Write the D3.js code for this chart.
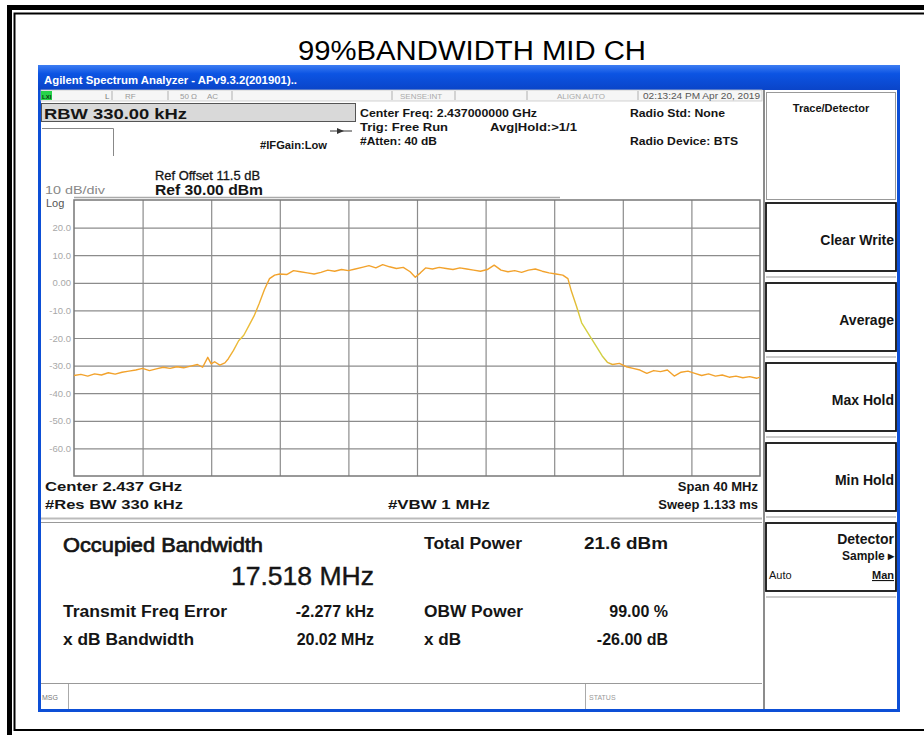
<!DOCTYPE html>
<html><head><meta charset="utf-8">
<script src="https://cdn.jsdelivr.net/npm/d3@7/dist/d3.min.js"></script>
<style>
html,body{margin:0;padding:0;background:#fff;}
svg{display:block;font-family:"Liberation Sans",Arial,sans-serif;}
</style></head>
<body>
<svg id="c" width="924" height="735"></svg>
<script>
// ---------------- data ----------------
const chartTitle = "99%BANDWIDTH MID CH";
const centerGHz = 2.437;
const spanMHz = 40;
const refLevel = 30;          // dBm (top of graticule)
const dbPerDiv = 10;
const yTickVals = [20, 10, 0, -10, -20, -30, -40, -50, -60];
const yTickLabels = ["20.0", "10.0", "0.00", "-10.0", "-20.0", "-30.0", "-40.0", "-50.0", "-60.0"];
const xGridVals = [-16, -12, -8, -4, 0, 4, 8, 12, 16];   // MHz offset from centre
// trace: frequency offset (MHz) and level (dBm)
const traceOffsetMHz = [-20.0,-19.6,-19.2,-18.8,-18.4,-18.0,-17.6,-17.2,-16.8,-16.4,-16.0,-15.6,-15.2,-14.8,-14.4,-14.0,-13.6,-13.2,-12.8,-12.5,-12.2,-12.0,-11.8,-11.5,-11.2,-11.0,-10.7,-10.4,-10.1,-9.8,-9.5,-9.2,-8.9,-8.6,-8.3,-8.0,-7.6,-7.2,-6.8,-6.4,-6.0,-5.6,-5.2,-4.8,-4.4,-4.0,-3.6,-3.2,-2.8,-2.4,-2.0,-1.6,-1.2,-0.8,-0.4,-0.1,0.2,0.5,0.9,1.3,1.7,2.1,2.5,2.9,3.3,3.7,4.1,4.5,4.9,5.3,5.7,6.1,6.5,6.9,7.3,7.7,8.1,8.5,8.8,9.0,9.3,9.6,9.9,10.2,10.5,10.8,11.1,11.4,11.8,12.2,12.6,13.0,13.4,13.8,14.2,14.6,15.0,15.4,15.8,16.2,16.6,17.0,17.4,17.8,18.2,18.6,19.0,19.4,19.8,20.0];
const traceLevelDbm = [-33.6,-33.2,-33.8,-33.0,-33.4,-32.6,-33.1,-32.4,-32.0,-31.6,-31.0,-31.8,-31.2,-30.6,-31.0,-30.4,-30.8,-30.2,-29.6,-30.6,-27.0,-29.4,-28.6,-29.8,-29.0,-27.5,-24.5,-21.0,-19.0,-15.5,-12.0,-7.5,-2.5,1.5,2.8,3.2,3.0,4.4,4.0,3.6,3.2,3.8,4.6,4.2,4.8,4.4,5.0,5.6,6.2,5.4,6.6,5.8,5.2,5.6,4.0,2.0,3.6,5.4,5.0,5.6,5.2,4.8,5.4,5.0,4.6,4.2,4.8,6.4,4.6,4.0,4.4,3.8,4.6,5.0,4.2,3.6,3.2,2.8,1.5,-3.0,-8.5,-14.5,-17.5,-20.5,-23.5,-26.5,-28.8,-29.6,-29.2,-30.4,-31.0,-31.6,-32.8,-31.8,-32.2,-31.6,-33.8,-32.4,-32.0,-32.8,-33.6,-33.0,-33.8,-33.4,-34.2,-33.8,-34.4,-34.0,-34.6,-34.2];
// header / footer text
const headerLeft = ["Center 2.437 GHz", "#Res BW  330 kHz"];
const footerMid = "#VBW  1 MHz";
const footerRight = ["Span 40 MHz", "Sweep  1.133 ms"];
const resultLabels = ["Transmit Freq Error", "x dB Bandwidth"];
const resultValues = ["-2.277 kHz", "20.02 MHz"];
const resultLabels2 = ["OBW Power", "x dB"];
const resultValues2 = ["99.00 %", "-26.00 dB"];
const softkeys = ["Clear Write", "Average", "Max Hold", "Min Hold"];

// ---------------- drawing ----------------
const svg = d3.select("#c");
const FONT = '"Liberation Sans",Arial,sans-serif';
function txt(g, s, x, y, o) {
  o = o || {};
  const t = g.append("text").attr("x", x).attr("y", y).text(s)
    .attr("font-size", o.size || 11)
    .attr("font-weight", o.w || "bold")
    .attr("fill", o.fill || "#151515")
    .attr("text-anchor", o.anchor || "start");
  if (o.len) t.attr("textLength", o.len).attr("lengthAdjust", "spacingAndGlyphs");
  if (o.deco) t.attr("text-decoration", o.deco);
  if (o.sw) t.attr("stroke", o.fill || "#151515").attr("stroke-width", o.sw);
  return t;
}

// outer frame
svg.append("rect").attr("width", 924).attr("height", 735).attr("fill", "#fff");
svg.append("path").attr("d", "M9.5,735 V7.5 H924").attr("fill", "none").attr("stroke", "#000").attr("stroke-width", 5);
svg.append("path").attr("d", "M924,730 H14.5 V13.5 H924").attr("fill", "none").attr("stroke", "#000").attr("stroke-width", 2);

// title
txt(svg, chartTitle, 298, 60, {size: 27, w: "normal", fill: "#000", len: 348});

// window
const defs = svg.append("defs");
const gr = defs.append("linearGradient").attr("id", "tb").attr("x1", 0).attr("y1", 0).attr("x2", 0).attr("y2", 1);
gr.append("stop").attr("offset", "0").attr("stop-color", "#3d7df2");
gr.append("stop").attr("offset", "0.35").attr("stop-color", "#0c54e3");
gr.append("stop").attr("offset", "1").attr("stop-color", "#0a44c8");
svg.append("rect").attr("x", 38).attr("y", 65).attr("width", 862).attr("height", 647).attr("fill", "#0d4fd6");
svg.append("rect").attr("x", 38).attr("y", 65).attr("width", 862).attr("height", 25).attr("fill", "url(#tb)");
txt(svg, "Agilent Spectrum Analyzer - APv9.3.2(201901)..", 44, 84, {size: 10, fill: "#fff", len: 253});

// main panel background
svg.append("rect").attr("x", 41).attr("y", 90).attr("width", 722).attr("height", 619).attr("fill", "#fff");
// status row
const sr = svg.append("g");
sr.append("rect").attr("x", 41).attr("y", 90).attr("width", 721).attr("height", 11).attr("fill", "#f6f6f6").attr("stroke", "#c8c8c8").attr("stroke-width", 0.8);
sr.append("rect").attr("x", 41).attr("y", 91).attr("width", 11).attr("height", 9).attr("fill", "#27d34a");
txt(sr, "LXI", 42, 99, {size: 6, fill: "#0a3a10"});
[112, 168, 232, 392, 455, 527, 638].forEach(x => sr.append("line").attr("x1", x).attr("x2", x).attr("y1", 91).attr("y2", 100).attr("stroke", "#b0b0b0"));
txt(sr, "L", 105, 99, {size: 8, w: "normal", fill: "#777"});
txt(sr, "RF", 125, 99, {size: 8, w: "normal", fill: "#999"});
txt(sr, "50 Ω", 180, 99, {size: 8, w: "normal", fill: "#999"});
txt(sr, "AC", 207, 99, {size: 8, w: "normal", fill: "#999"});
txt(sr, "SENSE:INT", 400, 99, {size: 8, w: "normal", fill: "#aaa"});
txt(sr, "ALIGN AUTO", 557, 99, {size: 8, w: "normal", fill: "#aaa"});
txt(sr, "02:13:24 PM Apr 20, 2019", 643, 99, {size: 8.5, w: "normal", fill: "#555", len: 117});

// header
svg.append("rect").attr("x", 41.5).attr("y", 103.5).attr("width", 314).attr("height", 18).attr("fill", "#d9d9d9").attr("stroke", "#555");
txt(svg, "RBW  330.00 kHz", 44, 119, {size: 15, len: 143});
svg.append("path").attr("d", "M42,128.5 H113.5 V156").attr("fill", "none").attr("stroke", "#888");
svg.append("line").attr("x1", 330).attr("x2", 352).attr("y1", 131).attr("y2", 131).attr("stroke", "#333");
svg.append("path").attr("d", "M337,128 L344,131 L337,134 Z").attr("fill", "#333");
txt(svg, "#IFGain:Low", 260, 149, {size: 10, len: 67});
txt(svg, "Center Freq: 2.437000000 GHz", 360, 117, {size: 11, len: 177});
txt(svg, "Trig: Free Run", 360, 131, {size: 11, len: 88});
txt(svg, "Avg|Hold:>1/1", 490, 131, {size: 11, len: 87});
txt(svg, "#Atten: 40 dB", 360, 145, {size: 11, len: 77});
txt(svg, "Radio Std: None", 630, 117, {size: 11, len: 95});
txt(svg, "Radio Device: BTS", 630, 145, {size: 11, len: 108});
txt(svg, "Ref Offset 11.5 dB", 155, 180, {size: 12, w: "normal", len: 105, sw: 0.3});
txt(svg, "Ref 30.00 dBm", 155, 195, {size: 14, len: 108});
txt(svg, "10 dB/div", 45, 194, {size: 11, w: "normal", fill: "#888", len: 60});
txt(svg, "Log", 46, 207, {size: 11, w: "normal", fill: "#555"});
svg.append("line").attr("x1", 74).attr("x2", 560).attr("y1", 197.5).attr("y2", 197.5).attr("stroke", "#aaa").attr("stroke-width", 1.5);

// plot
const L = 74, R = 760, T = 200, B = 476;
const x = d3.scaleLinear().domain([-spanMHz / 2, spanMHz / 2]).range([L, R]);
const y = d3.scaleLinear().domain([refLevel - 10 * dbPerDiv, refLevel]).range([B, T]);
const plot = svg.append("g");
plot.append("rect").attr("x", L).attr("y", T).attr("width", R - L).attr("height", B - T).attr("fill", "#fff");
const gy = plot.append("g").attr("transform", `translate(${L},0)`)
  .call(d3.axisLeft(y).tickValues(yTickVals).tickSize(-(R - L)).tickPadding(4)
    .tickFormat((d, i) => yTickLabels[i]));
gy.select(".domain").remove();
gy.selectAll(".tick line").attr("stroke", "#8c8c8c").attr("stroke-width", 1.2);
gy.selectAll(".tick text").attr("fill", "#a8a8a8").attr("font-size", 9.5).attr("font-family", FONT).attr("x", -3);
const gx = plot.append("g").attr("transform", `translate(0,${B})`)
  .call(d3.axisBottom(x).tickValues(xGridVals).tickSize(-(B - T)).tickFormat(""));
gx.select(".domain").remove();
gx.selectAll(".tick line").attr("stroke", "#8c8c8c").attr("stroke-width", 1.2);
plot.append("rect").attr("x", L).attr("y", T).attr("width", R - L).attr("height", B - T).attr("fill", "none").attr("stroke", "#777").attr("stroke-width", 1.5);
// trace colour: orange, yellowish on the steep skirts
const tg = defs.append("linearGradient").attr("id", "trc").attr("gradientUnits", "userSpaceOnUse")
  .attr("x1", L).attr("x2", R).attr("y1", 0).attr("y2", 0);
[[-20, "#f2a22c"], [-11.2, "#f2a22c"], [-10.2, "#e9c43c"], [-8.6, "#f2a22c"], [8.7, "#f2a22c"], [9.6, "#d6cf3e"], [10.8, "#cfd043"], [11.6, "#f2a22c"], [20, "#f2a22c"]]
  .forEach(([f, c]) => tg.append("stop").attr("offset", (x(f) - L) / (R - L)).attr("stop-color", c));
const pts = traceOffsetMHz.map((f, i) => [f, traceLevelDbm[i]]);
plot.append("path").datum(pts)
  .attr("d", d3.line().x(d => x(d[0])).y(d => y(d[1])))
  .attr("fill", "none").attr("stroke", "url(#trc)").attr("stroke-width", 1.4).attr("stroke-linejoin", "round");

// footer below graticule
txt(svg, headerLeft[0], 45, 491, {size: 13, len: 137});
txt(svg, headerLeft[1], 45, 509, {size: 13, len: 138});
txt(svg, footerMid, 388, 509, {size: 13, len: 102});
txt(svg, footerRight[0], 758, 491, {size: 13, anchor: "end"});
txt(svg, footerRight[1], 758, 509, {size: 13, anchor: "end"});
svg.append("line").attr("x1", 41).attr("x2", 762).attr("y1", 518.5).attr("y2", 518.5).attr("stroke", "#bbb").attr("stroke-width", 2);
svg.append("line").attr("x1", 41).attr("x2", 762).attr("y1", 522.5).attr("y2", 522.5).attr("stroke", "#999");

// results panel
svg.append("line").attr("x1", 41).attr("x2", 762).attr("y1", 683.5).attr("y2", 683.5).attr("stroke", "#999");
txt(svg, "Occupied Bandwidth", 63, 552, {size: 20, w: "normal", len: 200, sw: 0.7});
txt(svg, "17.518 MHz", 231, 585, {size: 26, w: "normal", len: 143, sw: 0.4});
txt(svg, "Total Power", 424, 549, {size: 16, len: 98});
txt(svg, "21.6 dBm", 584, 549, {size: 16, len: 84});
resultLabels.forEach((s, i) => txt(svg, s, 63, 617 + i * 28, {size: 16, len: i === 0 ? 164 : 131}));
resultValues.forEach((s, i) => txt(svg, s, 374, 617 + i * 28, {size: 16, anchor: "end"}));
resultLabels2.forEach((s, i) => txt(svg, s, 424, 617 + i * 28, {size: 16, len: i === 0 ? 99 : 37}));
resultValues2.forEach((s, i) => txt(svg, s, 668, 617 + i * 28, {size: 16, anchor: "end"}));

// status bar
svg.append("line").attr("x1", 68.5).attr("x2", 68.5).attr("y1", 684).attr("y2", 709).attr("stroke", "#aaa");
svg.append("line").attr("x1", 585.5).attr("x2", 585.5).attr("y1", 684).attr("y2", 709).attr("stroke", "#aaa");
txt(svg, "MSG", 42, 700, {size: 7, w: "normal", fill: "#777"});
txt(svg, "STATUS", 589, 700, {size: 7, w: "normal", fill: "#999"});

// right softkey panel
const sk = svg.append("g");
sk.append("rect").attr("x", 763).attr("y", 90).attr("width", 134).attr("height", 619).attr("fill", "#fff");
sk.append("line").attr("x1", 764).attr("x2", 764).attr("y1", 90).attr("y2", 709).attr("stroke", "#666").attr("stroke-width", 1.5);
sk.append("rect").attr("x", 766.5).attr("y", 92.5).attr("width", 129).attr("height", 107).attr("fill", "#fff").attr("stroke", "#999");
txt(sk, "Trace/Detector", 831, 112, {size: 11, anchor: "middle"});
const top0 = 203, pitch = 80, bh = 68;
softkeys.concat(["Detector"]).forEach((s, i) => {
  const t = top0 + i * pitch;
  sk.append("rect").attr("x", 766).attr("y", t).attr("width", 130).attr("height", bh).attr("fill", "#fff").attr("stroke", "#111").attr("stroke-width", 1.8);
  sk.append("line").attr("x1", 766).attr("x2", 896).attr("y1", t + bh + 6).attr("y2", t + bh + 6).attr("stroke", "#999");
  if (i < 4) txt(sk, s, 894, t + 42, {size: 14, anchor: "end"});
});
const dt = top0 + 4 * pitch;
txt(sk, "Detector", 894, dt + 21, {size: 14, anchor: "end"});
txt(sk, "Sample ▸", 894, dt + 37, {size: 12, anchor: "end"});
txt(sk, "Auto", 769, dt + 56, {size: 11, w: "normal"});
txt(sk, "Man", 894, dt + 56, {size: 11, anchor: "end", deco: "underline"});
</script>
</body></html>
